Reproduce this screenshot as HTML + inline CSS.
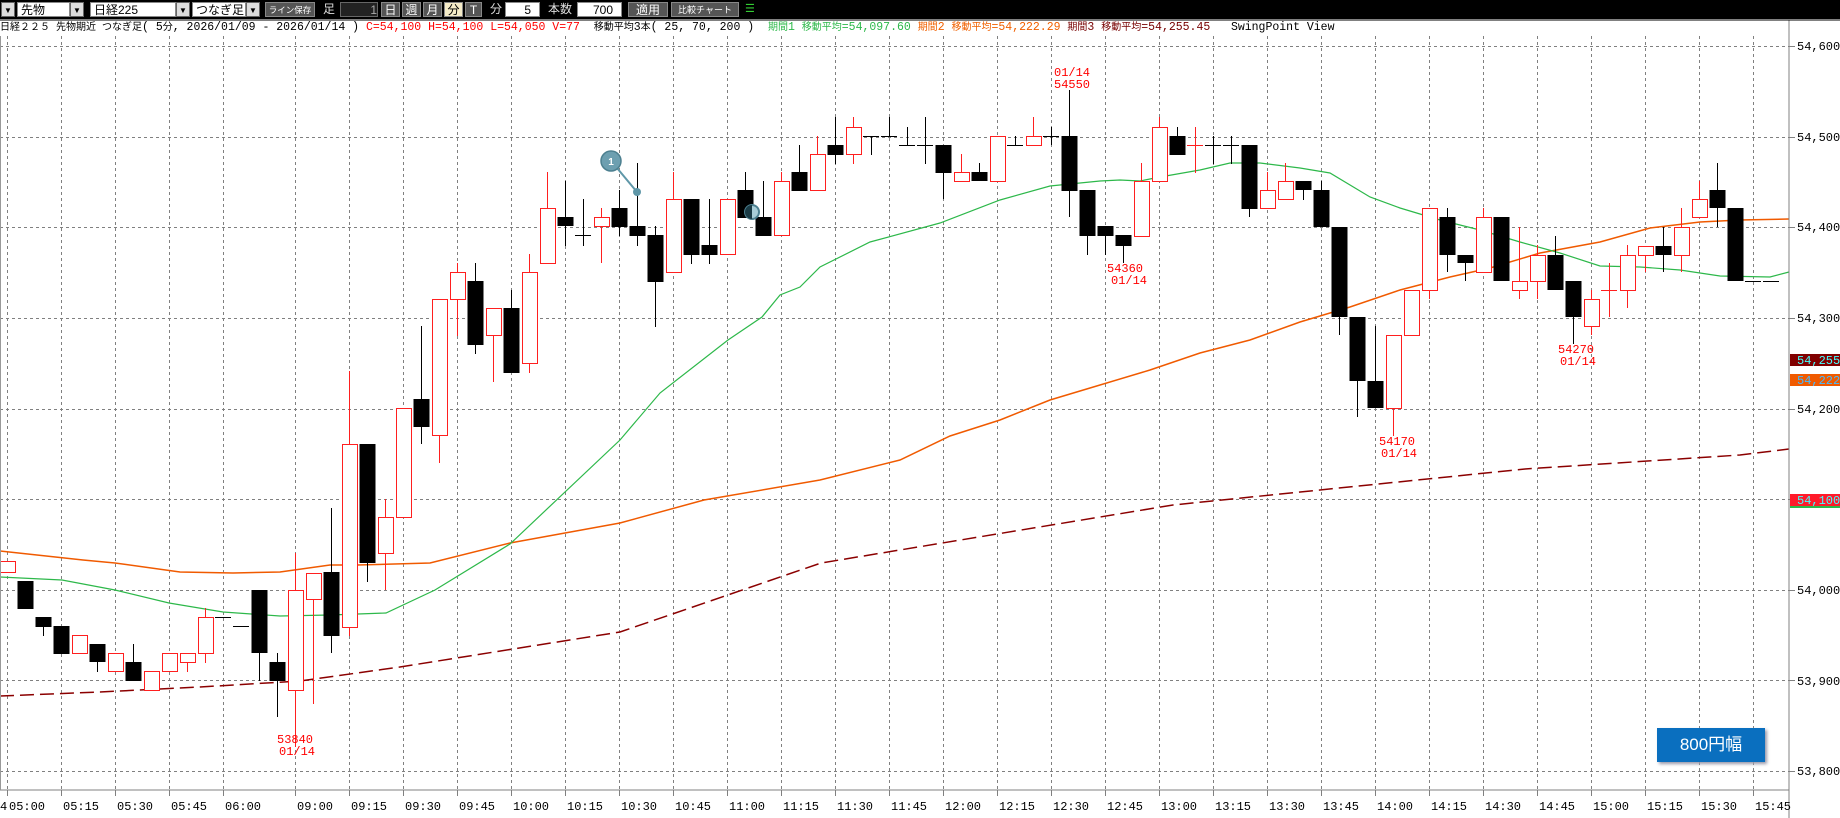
<!DOCTYPE html>
<html><head><meta charset="utf-8"><style>
body{margin:0;width:1840px;height:818px;overflow:hidden;background:#fff;font-family:"Liberation Mono","Noto Sans CJK JP",monospace;}
#tb{position:absolute;left:0;top:0;width:1840px;height:19px;background:#000;}
.tb{position:absolute;top:2px;height:15px;font-size:12px;line-height:15px;box-sizing:border-box;font-family:"Liberation Sans","Noto Sans CJK JP",sans-serif;white-space:nowrap;overflow:hidden}
.wb{background:#fff;color:#000;border:1px solid #888;padding-left:3px}
.dd{background:#ddd;border:1px solid #666;width:14px;font-size:8px;text-align:center}
.gb{background:#555;color:#fff;border:1px solid #888;text-align:center}
.lb{color:#ddd}
#hd{position:absolute;left:0;top:19px;height:17px;width:1789px;font-size:11.5px;line-height:17px;white-space:pre;color:#000}
#hd .j{font-size:10px}
.btn800{position:absolute;left:1657px;top:728px;width:108px;height:34px;background:#0a6fbf;color:#fff;font-family:"Liberation Sans","Noto Sans CJK JP",sans-serif;font-size:17px;line-height:34px;text-align:center;box-shadow:2px 2px 3px #99a}
</style></head><body>
<div id="tb">
<div class="tb dd" style="left:1px;color:#000">▼</div>
<div class="tb wb" style="left:17px;width:53px">先物</div><div class="tb dd" style="left:70px">▼</div>
<div class="tb wb" style="left:90px;width:86px">日経225</div><div class="tb dd" style="left:176px">▼</div>
<div class="tb wb" style="left:192px;width:54px">つなぎ足</div><div class="tb dd" style="left:246px">▼</div>
<div class="tb gb" style="left:265px;width:50px;font-size:8.5px">ライン保存</div>
<div class="tb lb" style="left:323px">足</div>
<div class="tb" style="left:340px;width:38px;background:#222;color:#aaa;text-align:right;border:1px solid #666">1</div>
<div class="tb gb" style="left:381px;width:19px">日</div>
<div class="tb gb" style="left:402px;width:19px">週</div>
<div class="tb gb" style="left:423px;width:19px">月</div>
<div class="tb" style="left:444px;width:19px;background:#f5ecc8;color:#000;text-align:center;border:1px solid #888">分</div>
<div class="tb gb" style="left:465px;width:17px">T</div>
<div class="tb lb" style="left:490px">分</div>
<div class="tb wb" style="left:505px;width:35px;text-align:right;padding-right:8px">5</div>
<div class="tb lb" style="left:548px">本数</div>
<div class="tb wb" style="left:577px;width:45px;text-align:right;padding-right:8px">700</div>
<div class="tb gb" style="left:628px;width:40px">適用</div>
<div class="tb gb" style="left:671px;width:68px;font-size:9px">比較チャート</div>
<div class="tb" style="left:745px;color:#3c3;font-size:11px">☰</div>
</div>
<div id="hd"><span class="j">日経２２５ 先物期近 つなぎ足</span>( 5<span class="j">分</span>, 2026/01/09 - 2026/01/14 ) <span style="color:#f00">C=54,100 H=54,100 L=54,050 V=77</span>  <span class="j">移動平均</span>3<span class="j">本</span>( 25, 70, 200 )  <span style="color:#2db84a"><span class="j">期間</span>1 <span class="j">移動平均</span>=54,097.60</span> <span style="color:#f06000"><span class="j">期間</span>2 <span class="j">移動平均</span>=54,222.29</span> <span style="color:#700"><span class="j">期間</span>3 <span class="j">移動平均</span>=54,255.45</span>   SwingPoint View</div>
<svg id="sv" width="1840" height="818" style="position:absolute;left:0;top:0" xmlns="http://www.w3.org/2000/svg">
<g id="grid"></g><g id="ma"></g><g id="cd"></g>
<g fill="#f00" font-family="Liberation Mono, monospace" font-size="12">
<text x="1054" y="76">01/14</text><text x="1054" y="88">54550</text>
<text x="1107" y="272">54360</text><text x="1111" y="284">01/14</text>
<text x="1379" y="445">54170</text><text x="1381" y="457">01/14</text>
<text x="1558" y="353">54270</text><text x="1560" y="365">01/14</text>
<text x="277" y="743">53840</text><text x="279" y="755">01/14</text>
</g>
<g>
<line x1="612" y1="162" x2="637" y2="192" stroke="#5f97a8" stroke-width="2"/>
<circle cx="637" cy="192" r="4" fill="#5f97a8"/>
<circle cx="611" cy="161" r="10" fill="#6d9fb0" stroke="#4d8090" stroke-width="1.5"/>
<text x="611" y="165" fill="#fff" font-size="10" font-family="Liberation Sans, sans-serif" text-anchor="middle" font-weight="bold">1</text>
<circle cx="752" cy="212" r="7" fill="#a8ccd6" stroke="#4d8090" stroke-width="2"/>
<path d="M752 205 A7 7 0 0 0 752 219 Z" fill="#1a3a44"/>
</g>
<line x1="1789" y1="20" x2="1789" y2="818" stroke="#808080"/>
<line x1="0" y1="790" x2="1789" y2="790" stroke="#808080"/>
<line x1="0" y1="20" x2="1840" y2="20" stroke="#000"/>
<line x1="0.5" y1="36" x2="0.5" y2="790" stroke="#999"/>
<g id="ylab" font-family="Liberation Mono, monospace" font-size="12" fill="#000">
<text x="1797" y="50">54,600.</text><text x="1797" y="141">54,500.</text><text x="1797" y="231">54,400.</text>
<text x="1797" y="322">54,300.</text><text x="1797" y="413">54,200.</text><text x="1797" y="594">54,000.</text>
<text x="1797" y="685">53,900.</text><text x="1797" y="775">53,800.</text>
</g>
<rect x="1790" y="354" width="50" height="12" fill="#800000"/><text x="1797" y="364" fill="#4ff" font-family="Liberation Mono, monospace" font-size="12">54,255.</text>
<rect x="1790" y="374" width="50" height="12" fill="#f05a00"/><text x="1797" y="384" fill="#4bf" font-family="Liberation Mono, monospace" font-size="12">54,222.</text>
<rect x="1790" y="494" width="50" height="12" fill="#ff1a2a"/><rect x="1790" y="506" width="50" height="2" fill="#2db84a"/><text x="1797" y="504" fill="#4ff" font-family="Liberation Mono, monospace" font-size="12">54,100</text>
<g font-family="Liberation Mono, monospace" font-size="12" fill="#000">
<text x="0" y="810">4</text><text x="9" y="810">05:00</text><text x="63" y="810">05:15</text><text x="117" y="810">05:30</text><text x="171" y="810">05:45</text><text x="225" y="810">06:00</text>
<text x="297" y="810">09:00</text><text x="351" y="810">09:15</text><text x="405" y="810">09:30</text><text x="459" y="810">09:45</text><text x="513" y="810">10:00</text><text x="567" y="810">10:15</text><text x="621" y="810">10:30</text><text x="675" y="810">10:45</text><text x="729" y="810">11:00</text><text x="783" y="810">11:15</text><text x="837" y="810">11:30</text><text x="891" y="810">11:45</text><text x="945" y="810">12:00</text><text x="999" y="810">12:15</text><text x="1053" y="810">12:30</text><text x="1107" y="810">12:45</text><text x="1161" y="810">13:00</text><text x="1215" y="810">13:15</text><text x="1269" y="810">13:30</text><text x="1323" y="810">13:45</text><text x="1377" y="810">14:00</text><text x="1431" y="810">14:15</text><text x="1485" y="810">14:30</text><text x="1539" y="810">14:45</text><text x="1593" y="810">15:00</text><text x="1647" y="810">15:15</text><text x="1701" y="810">15:30</text><text x="1755" y="810">15:45</text>
</g>
</svg>
<div class="btn800">800円幅</div>
<script>
var NS="http://www.w3.org/2000/svg";
function el(p,t,a){var e=document.createElementNS(NS,t);for(var k in a)e.setAttribute(k,a[k]);p.appendChild(e);return e;}
var g=document.getElementById('grid');
var hy=[46,136.6,227.3,317.9,408.5,499.2,589.8,680.4,771];
hy.forEach(function(y){y=Math.round(y)+0.5;el(g,'line',{x1:0,y1:y,x2:1789,y2:y,stroke:'#808080','stroke-dasharray':'3,3'});el(g,'line',{x1:1789,y1:y,x2:1795,y2:y,stroke:'#808080'});});
var vx=[7,61,115,169,223];for(var m=0;m<28;m++)vx.push(295+54*m);
vx.forEach(function(x){el(g,'line',{x1:x+0.5,y1:36,x2:x+0.5,y2:790,stroke:'#808080','stroke-dasharray':'3,3'});el(g,'line',{x1:x+0.5,y1:790,x2:x+0.5,y2:796,stroke:'#808080'});});
var ma=document.getElementById('ma');
function pl(pts,c,w,d){var a={points:pts.map(function(p){return p.join(',')}).join(' '),fill:'none',stroke:c,'stroke-width':w};if(d)a['stroke-dasharray']=d;el(ma,'polyline',a);}
pl([[0,696],[100,692],[200,687],[300,681],[400,667],[620,632],[821,563],[1173,505],[1525,469],[1740,455],[1789,449]],'#8b0000',1.5,'14,6');
pl([[0,551],[83,560],[115,563],[180,572],[233,573],[280,572],[330,565],[357,565],[430,563],[510,543],[620,523],[704,500],[820,480],[900,460],[950,436],[1000,420],[1050,400],[1100,385],[1150,370],[1200,353],[1250,340],[1300,322],[1350,307],[1400,290],[1450,277],[1490,268],[1540,253],[1600,242],[1650,228],[1700,222],[1740,220],[1789,219]],'#f05a00',1.5);
pl([[0,577],[62,580],[115,590],[169,603],[223,612],[280,616],[330,615],[386,613],[435,590],[510,544],[620,440],[660,393],[728,340],[762,317],[780,295],[800,287],[820,267],[870,242],[940,223],[1000,200],[1050,186],[1100,181],[1120,180],[1140,181],[1160,177],[1200,170],[1230,163],[1260,163],[1300,168],[1330,173],[1370,197],[1400,208],[1440,220],[1480,230],[1520,242],[1560,253],[1600,266],[1640,267],[1680,270],[1720,276],[1770,277],[1789,272]],'#2db84a',1.2);
var C=[[-1,'r',561,572],[0,'b',581,609],[1,'b',617,627,617,636],[2,'b',626,654],[3,'r',635,653],[4,'b',644,662,644,672],[5,'r',653,671],[6,'b',662,681,644],[7,'r',671,690],[8,'r',653,671],[9,'r',653,662,653,672],[10,'r',617,653,608,663],[11,'d',617],[12,'d',626],[13,'b',590,653,590,681],[14,'b',662,681,653,717],[15,'r',590,690,553,747],[16,'r',573,599,573,704],[17,'b',572,636,508,653],[18,'r',444,627,371,636],[19,'b',444,563,444,582],[20,'r',517,553,499,590],[21,'r',408,517],[22,'b',399,427,326,444],[23,'r',299,435,299,463],[24,'r',272,299,263,336],[25,'b',281,345,263,354],[26,'r',308,335,308,382],[27,'b',308,373,290],[28,'r',272,363,254,373],[29,'r',208,263,172],[30,'b',217,226,181,246],[31,'d',235,199,246],[32,'r',217,226,208,263],[33,'b',208,227,190,236],[34,'b',226,236,163,246],[35,'b',235,282,226,327],[36,'r',199,272,172],[37,'b',199,255,199,264],[38,'b',245,255,199,264],[39,'r',199,254],[40,'b',190,218,172],[41,'b',217,236,181],[42,'r',181,235,172],[43,'b',172,191,145],[44,'r',154,190,136],[45,'b',145,155,117,164],[46,'r',127,154,117,164],[47,'d',136,136,155],[48,'d',136,117,136],[49,'d',145,127,145],[50,'d',145,117,164],[51,'b',145,173,145,199],[52,'r',172,181,154],[53,'b',172,181,163],[54,'r',136,181],[55,'d',145,136,145],[56,'r',136,145,117],[57,'d',136,127,145],[58,'b',136,191,90,217],[59,'b',190,236,190,255],[60,'b',226,236,226,255],[61,'b',235,246,235,263],[62,'r',181,236,163],[63,'r',127,181,117],[64,'b',136,155,127],[65,'rd',145,127,173],[66,'d',145,136,164],[67,'d',145,136,164],[68,'b',145,209,145,217],[69,'r',190,208,172],[70,'r',181,199,163],[71,'b',181,190,181,200],[72,'b',190,227,181],[73,'b',227,317,227,335],[74,'b',317,381,317,417],[75,'b',381,408,326],[76,'r',335,408,335,436],[77,'r',290,335],[78,'r',208,290,208,299],[79,'b',217,255,208,272],[80,'b',255,263,255,281],[81,'r',217,272,208],[82,'b',217,281],[83,'r',281,290,227,299],[84,'r',255,281,245,299],[85,'b',255,290,236],[86,'b',281,317,281,344],[87,'r',299,326,290,335],[88,'rd',290,263,317],[89,'r',255,290,245,308],[90,'r',246,255,246,272],[91,'b',246,255,227,272],[92,'r',227,255,208,272],[93,'r',199,217,181],[94,'b',190,208,163,227],[95,'b',208,281],[96,'d',281],[97,'d',281]];
var cd=document.getElementById('cd');
C.forEach(function(c){var x=25+18*c[0],t=c[1];
 if(t=='d'||t=='rd'){var col=t=='rd'?'#ff1f1f':'#000',y=c[2]+0.5,h=c[3]||c[2],l=c[4]||c[2];
  if(h!=l)el(cd,'line',{x1:x+0.5,y1:h,x2:x+0.5,y2:l,stroke:col});
  el(cd,'line',{x1:x-8,y1:y,x2:x+8,y2:y,stroke:col});return;}
 var top=c[2],bot=c[3],h=c[4]!==undefined?c[4]:top,l=c[5]!==undefined?c[5]:bot;
 var col=t=='r'?'#ff1f1f':'#000';
 if(h<top)el(cd,'line',{x1:x+0.5,y1:h,x2:x+0.5,y2:top,stroke:col});
 if(l>bot)el(cd,'line',{x1:x+0.5,y1:bot,x2:x+0.5,y2:l,stroke:col});
 if(t=='r')el(cd,'rect',{x:x-7+0.5,y:top+0.5,width:15,height:Math.max(bot-top,1),fill:'#fff',stroke:col});
 else el(cd,'rect',{x:x-7.5,y:top,width:16,height:Math.max(bot-top,1),fill:'#000'});
});
</script>
</body></html>
